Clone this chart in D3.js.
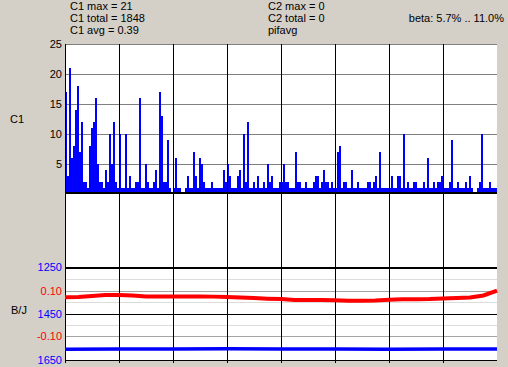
<!DOCTYPE html>
<html>
<head>
<meta charset="utf-8">
<script src="https://cdn.jsdelivr.net/npm/d3@7"></script>
<style>
    body { margin: 0; background: #d4d0c8; }
    text { font-family: "Liberation Sans", Arial, sans-serif; font-size: 11px; }
</style>
</head>
<body>
<div id="chart"></div>
<script>

// C1 counts, one value per bin
var c1Counts = [
    17,3,21,6,8,14,18,7,12,2, 2,1,8,11,12,16,5,2,2,1,
    4,2,10,5,12,2,1,10,1,1, 10,1,3,1,1,2,2,16,1,1,
    5,2,1,1,2,4,1,17,13,2, 2,9,1,0,1,6,1,1,0,0,
    1,3,1,1,7,3,1,6,5,2, 1,1,
    1,2,1,1,1,1,1,4,2,5, 3,1,1,1,3,4,1,10,2,12,
    1,1,2,1,3,1,1,2,1,5, 2,3,1,1,1,2,2,5,2,2,
    1,1,1,7,2,2,1,1,2,1, 1,1,2,3,3,1,2,4,2,2,
    1,2,1,1,7,8,1,2,2,1, 1,4,1,1,2,1,1,1,1,2,
    2,1,2,3,1,7,1,1,1,1, 1,3,1,1,3,3,1,10,1,2,
    1,1,2,2,1,1,1,2,1,6, 1,1,2,1,2,2,3,1,1,1,
    2,9,1,1,2,1,1,1,2,1, 3,1,0,0,1,2,10,1,1,1,
    2,1,1,1
];
var c1Ticks = [5, 10, 15, 20, 25];

// beta (red) and J (blue) samples, evenly spaced over the time axis
var betaVals = [0.072, 0.073, 0.078, 0.082, 0.082, 0.080, 0.076, 0.076, 0.076, 0.076,
    0.076, 0.075, 0.073, 0.071, 0.069, 0.066, 0.064, 0.060, 0.060, 0.060,
    0.059, 0.057, 0.057, 0.058, 0.061, 0.063, 0.063, 0.064, 0.067, 0.069,
    0.071, 0.080, 0.102];
var jVals = [1604, 1603, 1603, 1602, 1603, 1603, 1604, 1603, 1603];
var betaTicks = [0.10, -0.10];
var jTicks = [1250, 1450, 1650];
var jMinor = [1300, 1400, 1500, 1600];

var infoLeft = ["C1 max = 21", "C1 total = 1848", "C1 avg = 0.39"];
var infoMid = ["C2 max = 0", "C2 total = 0", "pifavg"];
var betaRange = "beta: 5.7% .. 11.0%";
var timeDivisions = 8;

var width = 508, height = 367;
var left = 65, right = 497;
var top1 = 44, bottom1 = 194, top3 = 267, bottom3 = 360;

var svg = d3.select("#chart").append("svg")
    .attr("width", width)
    .attr("height", height);

// scales
var xDiv = d3.scaleLinear().domain([0, timeDivisions]).range([left, right]);
var xBin = d3.scaleBand().domain(d3.range(c1Counts.length)).range([left, right]).padding(0);
var xBeta = d3.scaleLinear().domain([0, betaVals.length - 1]).range([left, right]);
var xJ = d3.scaleLinear().domain([0, jVals.length - 1]).range([left, right]);
var yC1 = d3.scaleLinear().domain([0, 25]).range([bottom1, top1]);
var yBeta = d3.scaleLinear().domain([-0.2, 0.2]).range([358.5, 268.5]);
var yJ = d3.scaleLinear().domain([1250, 1650]).range([top3, bottom3]);

// white plot area
svg.append("rect")
    .attr("x", left).attr("y", top1)
    .attr("width", right - left).attr("height", bottom3 - top1)
    .attr("fill", "#fff");

var grid = svg.append("g").attr("shape-rendering", "crispEdges");

// C1 horizontal grid
grid.selectAll("line.c1grid").data(c1Ticks).enter().append("line")
    .attr("class", "c1grid")
    .attr("x1", left).attr("x2", right)
    .attr("y1", function(d) { return Math.round(yC1(d)) + 0.5; })
    .attr("y2", function(d) { return Math.round(yC1(d)) + 0.5; })
    .attr("stroke", "#808080");

// B/J grid
grid.selectAll("line.jminor").data(jMinor).enter().append("line")
    .attr("x1", left).attr("x2", right)
    .attr("y1", function(d) { return Math.round(yJ(d)) + 0.5; })
    .attr("y2", function(d) { return Math.round(yJ(d)) + 0.5; })
    .attr("stroke", "#dcdcdc");
grid.selectAll("line.bgrid").data(betaTicks).enter().append("line")
    .attr("x1", left).attr("x2", right)
    .attr("y1", function(d) { return Math.round(yBeta(d)) + 0.5; })
    .attr("y2", function(d) { return Math.round(yBeta(d)) + 0.5; })
    .attr("stroke", "#a4a4a4");
grid.selectAll("line.jgrid").data(jTicks).enter().append("line")
    .attr("x1", left).attr("x2", right)
    .attr("y1", function(d) { return Math.round(yJ(d)) + 0.5; })
    .attr("y2", function(d) { return Math.round(yJ(d)) + 0.5; })
    .attr("stroke", "#000")
    .attr("stroke-width", function(d, i) { return i == 0 ? 2 : 1; });

// C1 bars
svg.append("g").attr("shape-rendering", "crispEdges")
    .selectAll("rect").data(c1Counts).enter().append("rect")
    .attr("x", function(d, i) { return xBin(i); })
    .attr("width", xBin.bandwidth())
    .attr("y", function(d) { return yC1(d); })
    .attr("height", function(d) { return yC1(0) - yC1(d); })
    .attr("fill", "#0000ff");

// baseline of C1
svg.append("line")
    .attr("x1", left).attr("x2", right)
    .attr("y1", 193).attr("y2", 193)
    .attr("stroke", "#000").attr("stroke-width", 2)
    .attr("shape-rendering", "crispEdges");

// vertical time grid + left edge
svg.append("g").attr("shape-rendering", "crispEdges")
    .selectAll("line").data(d3.range(0, timeDivisions)).enter().append("line")
    .attr("x1", function(d) { return Math.round(xDiv(d)) + 0.5; })
    .attr("x2", function(d) { return Math.round(xDiv(d)) + 0.5; })
    .attr("y1", top1).attr("y2", bottom3 + 3)
    .attr("stroke", "#000");

// red beta line
svg.append("path")
    .datum(betaVals)
    .attr("fill", "none")
    .attr("stroke", "#ff0000")
    .attr("stroke-width", 4)
    .attr("d", d3.line()
        .x(function(d, i) { return xBeta(i); })
        .y(function(d) { return yBeta(d); }));

// blue J line
svg.append("path")
    .datum(jVals)
    .attr("fill", "none")
    .attr("stroke", "#0000ff")
    .attr("stroke-width", 3.5)
    .attr("d", d3.line()
        .x(function(d, i) { return xJ(i); })
        .y(function(d) { return yJ(d); }));

// axes labels
function styleAxis(g, color) {
    g.select(".domain").remove();
    g.selectAll("text")
        .attr("fill", color)
        .attr("font-size", 12)
        .attr("font-family", "Liberation Sans, Arial, sans-serif");
}

svg.append("g")
    .attr("transform", "translate(" + left + ",0)")
    .call(d3.axisLeft(yC1).tickValues(c1Ticks).tickSize(0).tickPadding(3))
    .call(styleAxis, "#000");

svg.append("g")
    .attr("transform", "translate(" + left + ",0)")
    .call(d3.axisLeft(yJ).tickValues(jTicks).tickSize(0).tickPadding(3)
        .tickFormat(d3.format("d")))
    .call(styleAxis, "#0000ff");

svg.append("g")
    .attr("transform", "translate(" + left + ",0)")
    .call(d3.axisLeft(yBeta).tickValues(betaTicks).tickSize(0).tickPadding(3)
        .tickFormat(function(d) { return d.toFixed(2); }))
    .call(styleAxis, "#ff0000");

// panel names
svg.append("text").attr("x", 10).attr("y", 119).attr("dy", "0.35em")
    .attr("font-size", 12).text("C1");
svg.append("text").attr("x", 11).attr("y", 310).attr("dy", "0.35em")
    .attr("font-size", 12).text("B/J");

// info text
svg.selectAll("text.infoL").data(infoLeft).enter().append("text")
    .attr("x", 70)
    .attr("y", function(d, i) { return 10 + i * 12; })
    .text(function(d) { return d; });
svg.selectAll("text.infoM").data(infoMid).enter().append("text")
    .attr("x", 268)
    .attr("y", function(d, i) { return 10 + i * 12; })
    .text(function(d) { return d; });
svg.append("text")
    .attr("x", 504).attr("y", 22)
    .attr("text-anchor", "end")
    .text(betaRange);

</script>
</body>
</html>
